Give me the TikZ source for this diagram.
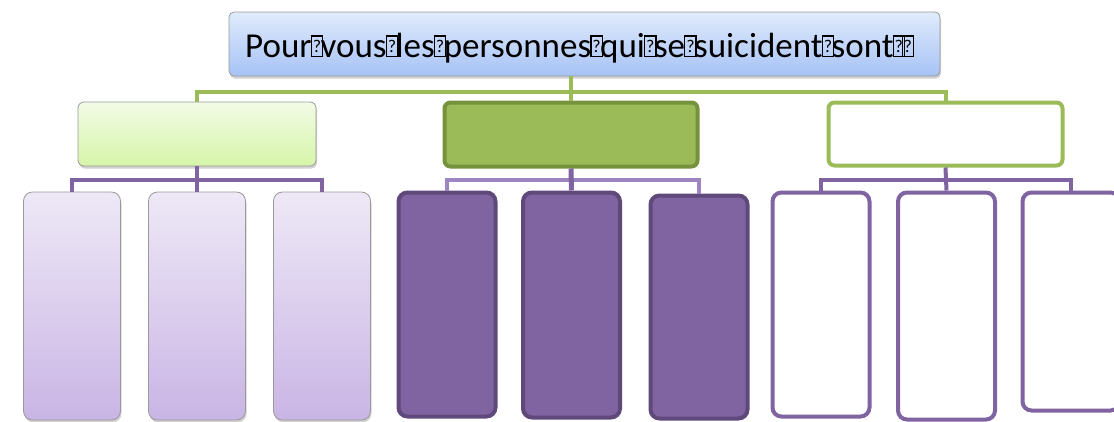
\documentclass[tikz,border=0pt]{standalone}
\usepackage{fontspec}
\setmainfont{Carlito}
\usepackage{tikz}
\usetikzlibrary{calc, shadows}
\definecolor{titletop}{HTML}{E0EBFC}
\definecolor{titlebot}{HTML}{A6C2F5}
\definecolor{limetop}{HTML}{F2FBE6}
\definecolor{limebot}{HTML}{D6F5A8}
\definecolor{olive}{HTML}{9BBB59}
\definecolor{darkolive}{HTML}{76923C}
\definecolor{lavtop}{HTML}{EEE8F6}
\definecolor{lavbot}{HTML}{C9B5E5}
\definecolor{plum}{HTML}{8064A2}
\definecolor{darkplum}{HTML}{5F497A}
\definecolor{lightplum}{HTML}{9C85C0}
\definecolor{edgegray}{HTML}{9A9A9A}
\newcommand{\tofu}{\makebox[9pt][l]{\hspace*{-1pt}{\setlength{\fboxsep}{0pt}\setlength{\fboxrule}{1.3pt}%
  \raisebox{1.5pt}{\fbox{\rule{0pt}{19pt}\makebox[10pt]{\raisebox{3pt}{\fontsize{18}{18}\selectfont ?}}}}}}}
\tikzset{
    softshadow/.style={drop shadow={shadow xshift=1pt, shadow yshift=-2.5pt, opacity=0.3, fill=black!60}},
    titlebox/.style={rounded corners=5pt, draw=edgegray, line width=0.8pt, top color=titletop, bottom color=titlebot,
        softshadow, minimum width=711pt, minimum height=64pt, inner sep=0pt},
    titlefont/.style={font=\fontsize{35}{37}\selectfont},
    headbox/.style={rounded corners=6pt, minimum width=238pt, minimum height=64pt, inner sep=0pt},
    leafbox/.style={rounded corners=9pt, minimum width=97pt, inner sep=0pt},
    greenline/.style={draw=olive, line width=4pt},
    purpleline/.style={draw=plum, line width=4pt}
}
\begin{document}
\begin{tikzpicture}[x=1pt, y=-1pt]
        \path[use as bounding box, clip] (0,0) rectangle (1114,421);

        % title
        \node[titlebox] (title) at (584.5,44) {};
        \node[titlefont, inner sep=0pt, anchor=base west] (titletext) at (245,57)
            {Pour\tofu vous\tofu les\tofu personnes\tofu qui\tofu se\tofu suicident\tofu sont\tofu\tofu};

        % second row
        \node[headbox, draw=edgegray, line width=0.8pt, top color=limetop, bottom color=limebot, softshadow] (headA) at (197,134) {};
        \node[headbox, draw=darkolive, line width=4pt, fill=olive, minimum width=253pt, minimum height=64pt] (headB) at (571,134.5) {};
        \node[headbox, draw=olive, line width=4pt, fill=white, minimum width=234pt, minimum height=63pt] (headC) at (945.5,134) {};

        % green connectors
        \coordinate (gbar) at (0,92);
        \draw[greenline] (headA.north) |- (headC.north |- gbar) -- (headC.north);
        \draw[greenline] (headB.north |- title.south) -- (headB.north);

        % pale leaves
        \foreach \i/\x in {1/72,2/197,3/322}
            \node[leafbox, draw=edgegray, line width=0.8pt, top color=lavtop, bottom color=lavbot, softshadow,
                minimum height=228pt] (leafA\i) at (\x,306) {};

        % dark leaves
        \foreach \i/\x/\y/\h in {1/447/304.5/224,2/571.5/305/225,3/699/307/223}
            \node[leafbox, draw=darkplum, line width=4pt, fill=plum, minimum height=\h pt] (leafB\i) at (\x,\y) {};

        % white leaves
        \foreach \i/\x/\y/\h in {1/821/304.5/224,2/946.5/306/227,3/1071/301.5/218}
            \node[leafbox, draw=plum, line width=4pt, fill=white, minimum height=\h pt] (leafC\i) at (\x,\y) {};

        % purple connectors
        \coordinate (pbar) at (0,180);
        \draw[purpleline] (leafA1.north) |- (leafA3.north |- pbar) -- (leafA3.north);
        \draw[purpleline] (headA.south) -- (leafA2.north);
        \draw[draw=lightplum, line width=3.5pt] (leafB1.north) |- (leafB3.north |- pbar) -- (leafB3.north);
        \draw[purpleline, line width=5pt] (headB.south) -- (leafB2.north);
        \draw[purpleline] (leafC1.north) |- (leafC3.north |- pbar) -- (leafC3.north);
        \draw[purpleline] (headC.south) -- (leafC2.north);
\end{tikzpicture}
\end{document}
